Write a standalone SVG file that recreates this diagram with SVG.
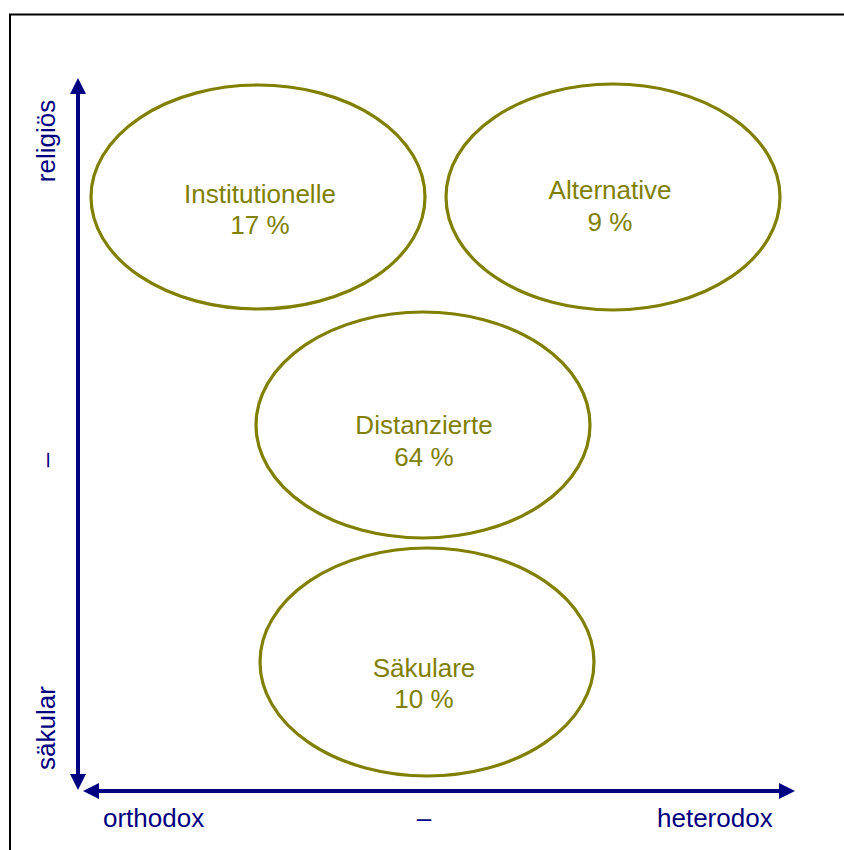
<svg xmlns="http://www.w3.org/2000/svg" width="844" height="850" viewBox="0 0 844 850">
<style>
.node ellipse{fill:none;stroke:#808000;stroke-width:3.2}
.node text{font-family:"Liberation Sans",Arial,sans-serif;font-size:26px;fill:#808000;text-anchor:middle}
.ax{stroke:#000080;stroke-width:4;fill:none}
.lab{font-family:"Liberation Sans",Arial,sans-serif;font-size:26px;fill:#000080}
</style>
<defs>
<marker id="ah" markerUnits="userSpaceOnUse" markerWidth="16" markerHeight="16" viewBox="0 0 16 16" refX="4" refY="8" orient="auto-start-reverse">
<path d="M0,0 L16,8 L0,16 z" fill="#000080"/>
</marker>
</defs>
<rect x="10" y="14.5" width="900" height="900" fill="#fff" stroke="#000" stroke-width="2"/>
<g id="connectors">
<line class="ax" x1="78" y1="90" x2="78" y2="778" marker-start="url(#ah)" marker-end="url(#ah)"/>
<line class="ax" x1="95" y1="791" x2="783" y2="791" marker-start="url(#ah)" marker-end="url(#ah)"/>
</g>
<g id="institutionelle" class="node">
<ellipse cx="258" cy="197" rx="167" ry="112"/>
<text x="260" y="203">Institutionelle</text>
<text x="260" y="234">17 %</text>
</g>
<g id="alternative" class="node">
<ellipse cx="613" cy="197" rx="167" ry="113"/>
<text x="610" y="199">Alternative</text>
<text x="610" y="231">9 %</text>
</g>
<g id="distanzierte" class="node">
<ellipse cx="423" cy="425" rx="167" ry="113"/>
<text x="424" y="434">Distanzierte</text>
<text x="424" y="466">64 %</text>
</g>
<g id="saekulare" class="node">
<ellipse cx="427" cy="662" rx="167" ry="114"/>
<text x="424" y="677">Säkulare</text>
<text x="424" y="708">10 %</text>
</g>
<g id="axis-labels">
<text class="lab" x="103" y="827">orthodox</text>
<text class="lab" x="424" y="827" text-anchor="middle">–</text>
<text class="lab" x="657" y="827">heterodox</text>
<text class="lab" transform="translate(55,141) rotate(-90)" text-anchor="middle">religiös</text>
<text class="lab" transform="translate(55,460) rotate(-90)" text-anchor="middle">–</text>
<text class="lab" transform="translate(55,728) rotate(-90)" text-anchor="middle">säkular</text>
</g>
</svg>
